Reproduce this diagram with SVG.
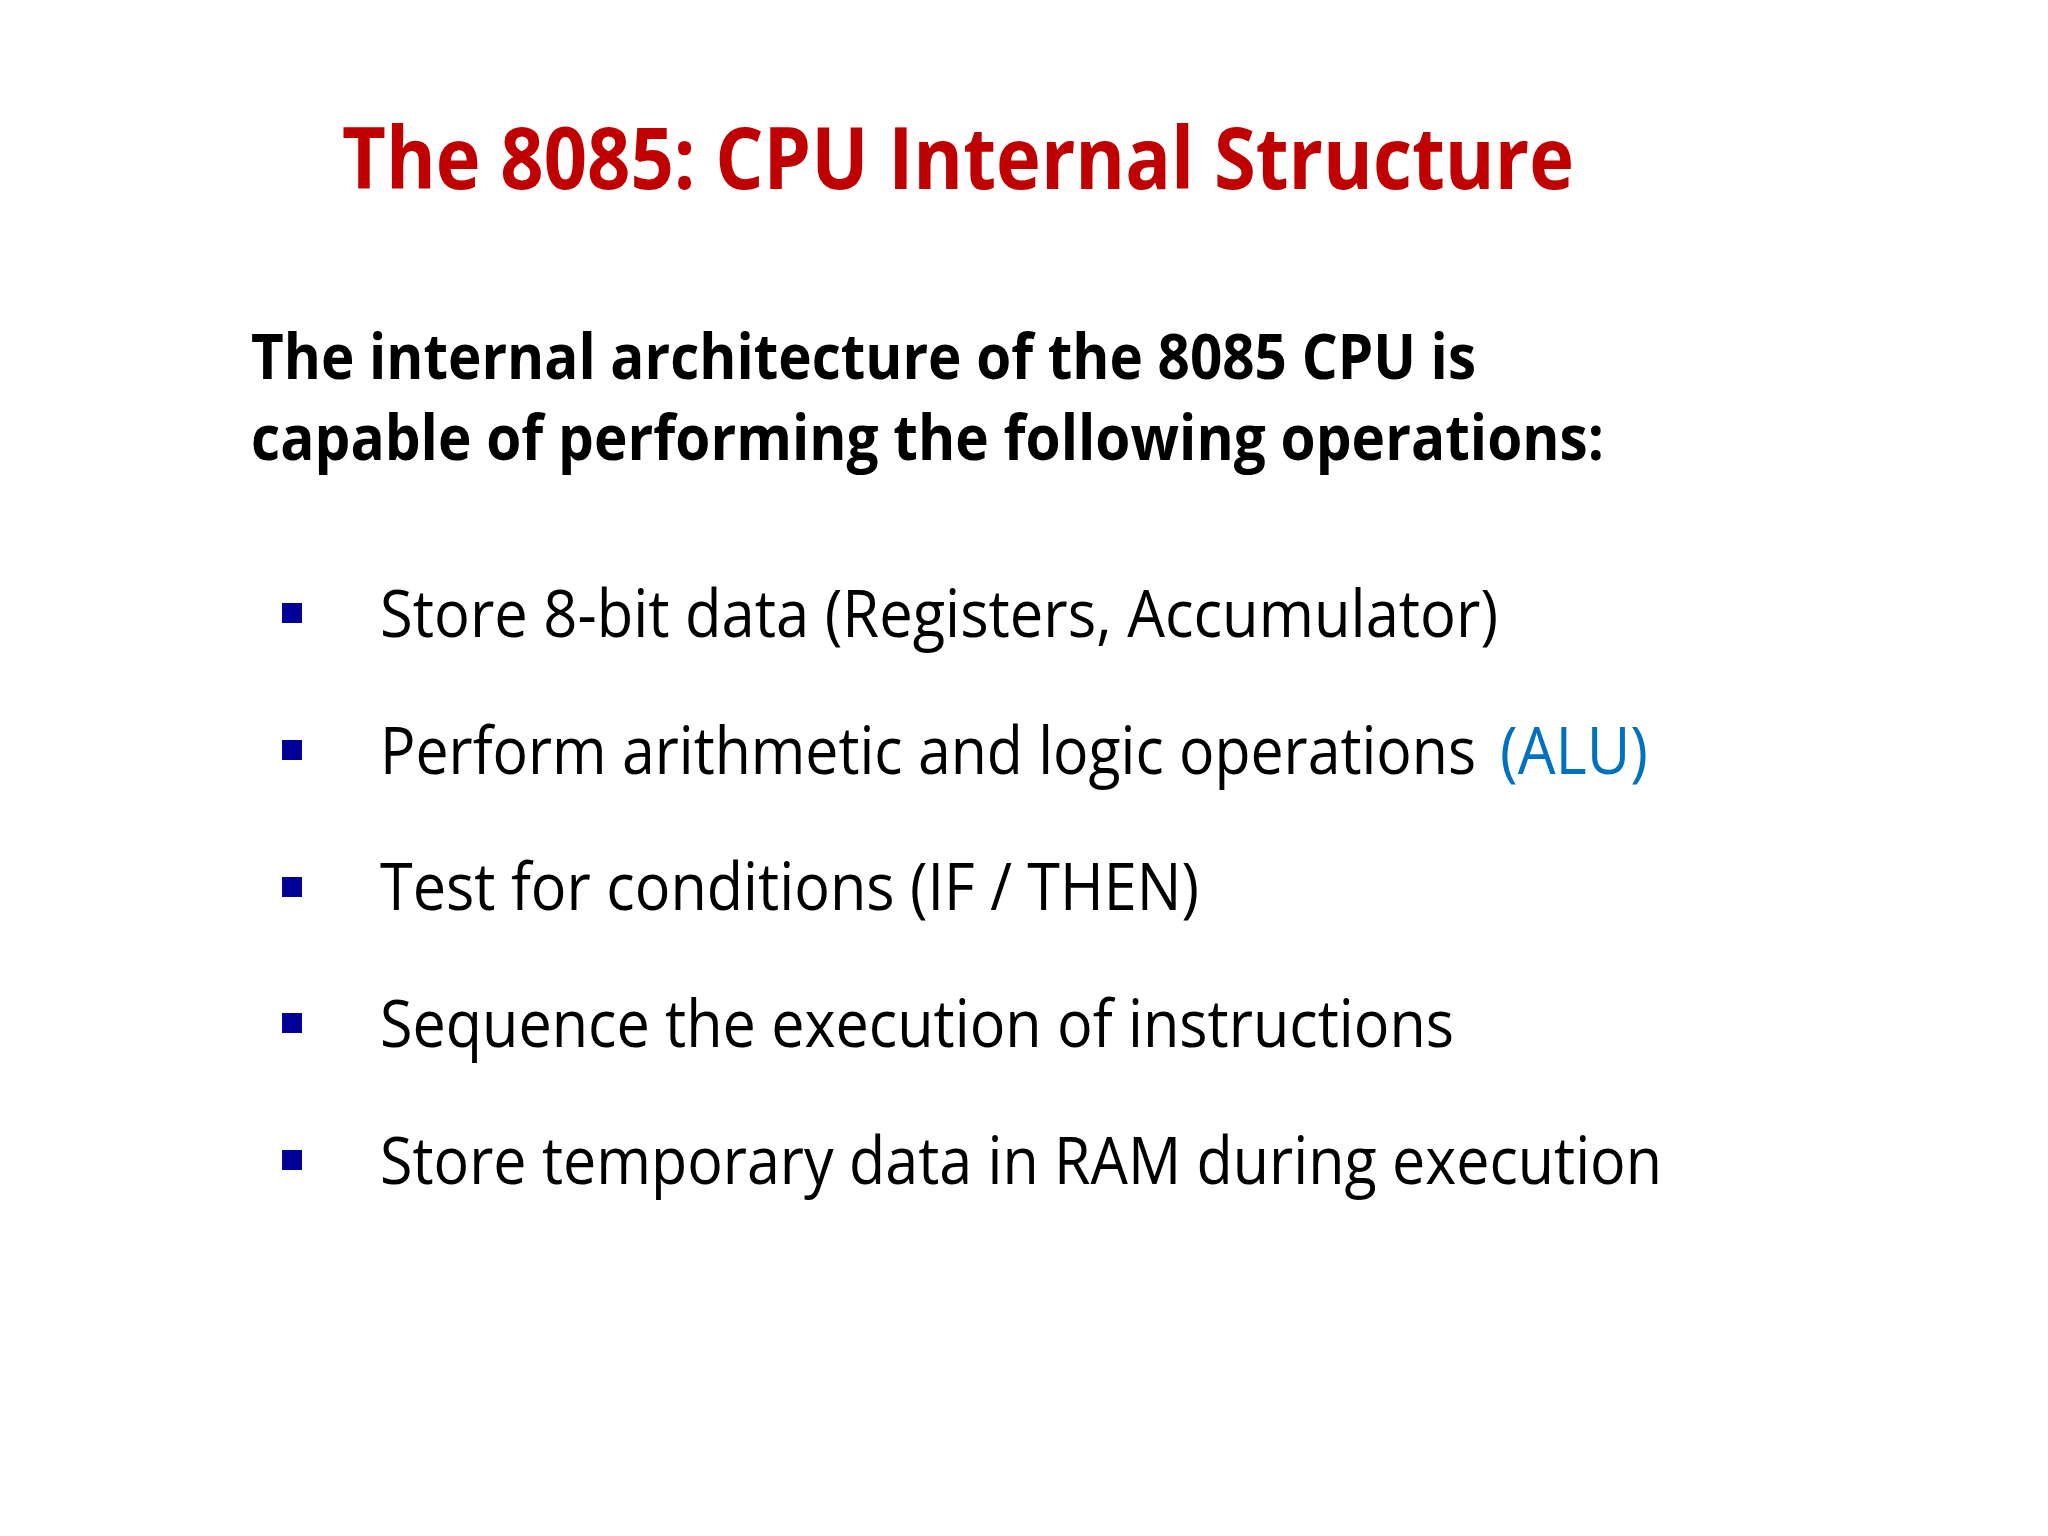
<svg xmlns="http://www.w3.org/2000/svg" width="2048" height="1536" viewBox="0 0 2048 1536">
<style>
.t{font-family:"Open Sans","Liberation Sans",sans-serif;}
.title{font-size:86px;font-weight:bold;fill:#C00000;}
.sub{font-size:62px;font-weight:bold;fill:#000;}
.body{font-size:66px;fill:#000;}
.bul{fill:#000099;}
</style>
<rect width="2048" height="1536" fill="#ffffff"/>
<g id="title"><text class="t title" x="342" y="189" textLength="1232" lengthAdjust="spacingAndGlyphs">The 8085: CPU Internal Structure</text></g>
<g id="intro">
<text class="t sub" x="251" y="379" textLength="1225" lengthAdjust="spacingAndGlyphs">The internal architecture of the 8085 CPU is</text>
<text class="t sub" x="251" y="460" textLength="1353" lengthAdjust="spacingAndGlyphs">capable of performing the following operations:</text>
</g>
<g id="bullets">
<rect class="bul" x="282" y="603" width="20" height="20"/>
<text class="t body" x="380" y="637" textLength="1118" lengthAdjust="spacingAndGlyphs">Store 8-bit data (Registers, Accumulator)</text>
<rect class="bul" x="282" y="740" width="20" height="20"/>
<text class="t body" x="380" y="774" textLength="1096" lengthAdjust="spacingAndGlyphs">Perform arithmetic and logic operations</text>
<text class="t body" x="1500" y="774" style="fill:#0070C0" textLength="148" lengthAdjust="spacingAndGlyphs">(ALU)</text>
<rect class="bul" x="282" y="877" width="20" height="20"/>
<text class="t body" x="380" y="910" textLength="819" lengthAdjust="spacingAndGlyphs">Test for conditions (IF / THEN)</text>
<rect class="bul" x="282" y="1013" width="20" height="20"/>
<text class="t body" x="380" y="1047" textLength="1074" lengthAdjust="spacingAndGlyphs">Sequence the execution of instructions</text>
<rect class="bul" x="282" y="1150" width="20" height="20"/>
<text class="t body" x="380" y="1184" textLength="1282" lengthAdjust="spacingAndGlyphs">Store temporary data in RAM during execution</text>
</g>
</svg>
